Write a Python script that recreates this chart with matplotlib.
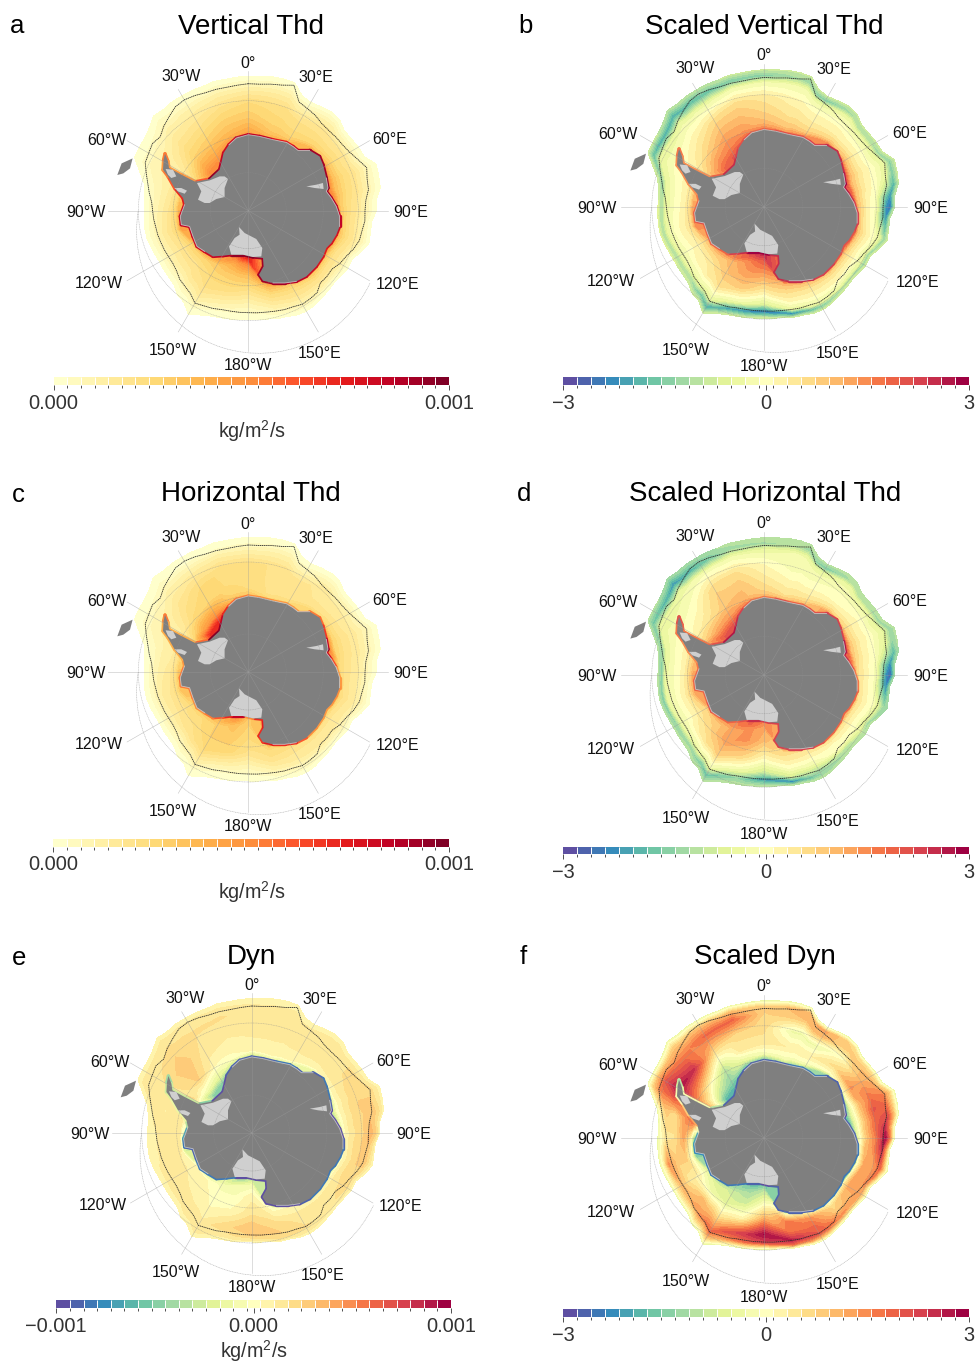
import numpy as np
import matplotlib
matplotlib.use("Agg")
import matplotlib.pyplot as plt
from matplotlib.colors import BoundaryNorm
from matplotlib.colorbar import ColorbarBase
from matplotlib.collections import LineCollection
from matplotlib.patches import Polygon, Arc, Circle

plt.rcParams['font.family'] = ['Liberation Sans', 'DejaVu Sans']
plt.rcParams['mathtext.default'] = 'regular'

W, H = 976, 1364

# ---- Map geometry (map units, pole at origin) ----
SECTOR_LON = [0, 15, 30, 45, 60, 75, 90, 105, 120, 135, 150, 165, 180, 195, 210,
              225, 240, 255, 270, 285, 300, 315, 330, 345]
INNER_R = [76, 73, 78, 86, 86, 82, 88, 91, 87, 87, 80, 74, 44, 47, 54, 60, 60, 68, 68, 67, 60, 50, 55, 70]
EDGE_LON = list(range(0, 360, 5))
OUTER_R = [134.7, 135, 136, 136.5, 136, 127, 125, 127, 129, 129, 125, 125.6, 127, 128, 136, 135,
           134, 128.5, 128, 124, 124, 125, 120, 114.6, 115, 113, 112, 113, 114, 115.5, 116, 115,
           112.7, 112, 110, 109.5, 109, 109.3, 110, 110.6, 112, 115, 120, 112, 110, 105, 103.5, 103,
           102.5, 103, 104, 105, 105, 104.5, 104, 104, 105, 108, 115.7, 125.5, 126, 126.6, 129, 134,
           132, 132.8, 132.6, 132.8, 132.4, 133.7, 133.4, 134]
FRONT_R = [127, 127, 128.5, 130, 133.5, 120, 118, 116.6, 114, 113.6, 114.4, 115, 117, 121, 126, 123,
           122, 118, 116.7, 117, 115.5, 115, 112, 108, 105.7, 102, 102.5, 102, 107, 107.6, 108, 106,
           105.3, 104, 103, 102.5, 102, 102, 102, 102.4, 104, 105, 106.7, 101, 98.6, 97, 93.6, 92,
           92, 92.6, 93, 93.7, 94, 95, 95.7, 97, 100.5, 104, 108.6, 113.7, 115, 117, 115, 119.5,
           123, 127, 128, 127, 125.5, 125.6, 125.3, 126]
RADIAL_S = [0.0, 0.04, 0.12, 0.30, 0.55, 0.78, 0.90, 1.0]

COAST_X = [-27, -24.7, -19.3, -12, 0, 11.3, 24.7, 38, 44.7, 49.7, 61.3, 71.3, 74.7, 78, 79.7, 78, 83, 88,
           91.3, 91.3, 88, 83, 78, 74.7, 68, 58, 48, 36.3, 24.7, 14.7, 10.7, 15.3, 14.7, 4.7, -5.3, -17,
           -25.3, -35.3, -43.7, -51.3, -55.3, -58.7, -67, -68, -63.7, -65.3, -73.7, -80.3, -85.3, -84.7,
           -83.3, -80.3, -79.3, -67, -53.7, -51.3, -38.7, -28.7]
COAST_Y = [47.7, 57.7, 66, 72.7, 76, 74.3, 71, 68.3, 64.3, 60.3, 60.3, 54.3, 46, 32.7, 22.7, 19.3, 12.7, 4.3,
           -5.7, -15.7, -24, -32.3, -37.3, -45.7, -55.7, -65.7, -70.7, -72.3, -72.3, -70, -64, -55.7, -47.3,
           -46.3, -44, -44, -45, -45.7, -40.7, -35.7, -25.7, -15.7, -14, -5.7, 6, 12.7, 22.7, 34.3, 41, 51,
           57, 49.3, 42.7, 36, 29.3, 29.3, 31.7, 41]
RONNE_X = [-51.3, -38.7, -28.7, -23.7, -20.3, -23.7, -23.7, -32, -38.7, -43.7, -50.3, -47]
RONNE_Y = [27.7, 30.3, 34.3, 34.3, 31.7, 22.7, 13.7, 11.7, 7.7, 7.7, 11, 19.3]
ROSS_X = [-9.3, -3.7, 8, 14, 13, 4.7, -5.3, -17, -19.3, -13.7, -8.7]
ROSS_Y = [-16.3, -22.3, -28.3, -37.3, -45.7, -46.3, -44, -44, -35.7, -27.3, -24]
AMERY_X = [58, 68, 74.7, 75.3, 66.3]
AMERY_Y = [24.3, 26, 27.7, 21.7, 22.7]
LARSEN_X = [-82.7, -75.3, -72, -77, -80.3]
LARSEN_Y = [41.7, 41, 34.3, 32.7, 36]
WEST_ISLE_X = [-73.7, -67, -61.3, -63.7, -70.3]
WEST_ISLE_Y = [22.7, 22.7, 20, 17, 19.3]
GEORGIA_X = [-131, -126.7, -115.7, -118.3, -125]
GEORGIA_Y = [35.7, 47.3, 52.3, 42.3, 37.3]

# ---- Field values: rows = RADIAL_S (coast to outer edge), columns = SECTOR_LON ----
# panels a, c, e in 1e-5 kg/m2/s; panels b, d, f in tenths of a standard unit
VERTICAL_THD = [
    [85, 85, 70, 90, 90, 95, 85, 80, 75, 80, 90, 90, 100, 95, 85, 80, 80, 85, 80, 70, 45, 95, 85, 80],
    [42, 38, 34, 38, 45, 50, 45, 38, 38, 38, 42, 45, 75, 50, 42, 35, 38, 42, 38, 30, 22, 50, 48, 42],
    [38, 32, 28, 28, 33, 35, 30, 30, 28, 30, 30, 35, 55, 40, 30, 26, 28, 28, 26, 22, 18, 42, 40, 36],
    [30, 26, 24, 22, 24, 25, 22, 22, 20, 22, 22, 25, 35, 30, 25, 20, 20, 20, 18, 15, 12, 28, 30, 30],
    [24, 22, 20, 18, 18, 18, 16, 16, 16, 16, 16, 16, 20, 22, 20, 16, 15, 14, 12, 10, 10, 18, 20, 22],
    [12, 12, 10, 10, 8, 8, 8, 8, 8, 8, 8, 8, 8, 10, 10, 8, 8, 6, 6, 6, 6, 10, 12, 12],
    [4, 4, 4, 4, 3, 3, 3, 3, 3, 3, 3, 3, 3, 3, 3, 3, 3, 3, 2, 2, 2, 4, 4, 4],
    [1, 1, 1, 1, 1, 1, 1, 1, 1, 1, 1, 1, 1, 1, 1, 1, 1, 1, 1, 1, 1, 1, 1, 1],
]
HORIZONTAL_THD = [
    [50, 50, 45, 50, 60, 95, 45, 50, 45, 50, 70, 75, 50, 85, 65, 50, 50, 55, 55, 40, 40, 100, 95, 60],
    [30, 25, 24, 26, 35, 50, 30, 30, 26, 28, 35, 35, 30, 45, 35, 28, 30, 32, 32, 24, 25, 70, 70, 35],
    [24, 20, 20, 20, 25, 28, 22, 22, 20, 20, 22, 25, 28, 33, 28, 24, 25, 25, 22, 18, 18, 45, 48, 28],
    [22, 20, 18, 17, 18, 20, 18, 18, 16, 16, 18, 22, 25, 30, 28, 22, 20, 18, 16, 12, 12, 25, 28, 24],
    [22, 20, 18, 16, 15, 15, 14, 14, 14, 14, 14, 16, 20, 26, 24, 18, 16, 14, 12, 10, 10, 18, 24, 24],
    [10, 10, 8, 8, 8, 8, 7, 7, 7, 7, 7, 8, 8, 10, 10, 8, 8, 6, 6, 5, 6, 10, 12, 12],
    [3, 3, 3, 3, 3, 3, 3, 3, 3, 3, 3, 3, 3, 3, 3, 3, 3, 2, 2, 2, 2, 3, 3, 3],
    [1, 1, 1, 1, 1, 1, 1, 1, 1, 1, 1, 1, 1, 1, 1, 1, 1, 1, 1, 1, 1, 1, 1, 1],
]
DYN = [
    [-90, -90, -80, -95, -80, -95, -95, -80, -80, -85, -95, -95, -100, -95, -80, -85, -85, -95, -70, -10, -30, -95, -95, -90],
    [-25, -20, -15, -15, -15, -25, -25, -15, -15, -15, -25, -30, -30, -35, -15, -15, -15, -25, -5, 10, 5, -50, -50, -25],
    [5, 5, 5, 5, 5, 0, 0, 5, 5, 5, 5, 0, -10, -10, -5, 5, 5, 10, 15, 18, 20, -15, -20, 0],
    [10, 10, 10, 12, 15, 15, 15, 15, 15, 12, 10, 8, 8, -3, 0, 8, 10, 12, 15, 12, 15, 25, 8, 8],
    [12, 12, 12, 14, 18, 25, 20, 25, 18, 15, 15, 22, 15, 5, 5, 10, 12, 12, 12, 10, 18, 30, 14, 12],
    [14, 15, 15, 15, 18, 25, 35, 25, 20, 15, 18, 25, 30, 22, 14, 15, 12, 10, 10, 12, 15, 20, 18, 18],
    [10, 10, 10, 10, 10, 15, 25, 12, 12, 10, 12, 20, 25, 15, 12, 10, 10, 10, 10, 10, 12, 14, 14, 12],
    [6, 6, 6, 6, 6, 6, 6, 6, 6, 6, 6, 6, 6, 6, 6, 6, 6, 6, 6, 6, 6, 6, 6, 6],
]
SCALED_VERTICAL = [
    [18, 20, 20, 24, 24, 28, 22, 22, 20, 22, 24, 24, 30, 28, 24, 18, 18, 20, 18, 14, 15, 25, 24, 20],
    [14, 14, 14, 15, 17, 20, 17, 17, 15, 15, 16, 18, 25, 20, 16, 12, 12, 14, 12, 10, 8, 18, 20, 16],
    [10, 9, 8, 8, 10, 10, 9, 9, 8, 8, 10, 10, 20, 15, 10, 8, 8, 7, 6, 5, 5, 15, 16, 13],
    [7, 5, 4, 3, 4, 4, 3, 4, 4, 4, 5, 6, 14, 13, 9, 4, 3, 3, 2, 2, 2, 8, 12, 10],
    [4, 2, 1, 0, 0, 0, -2, 0, 0, 1, 1, 2, 5, 8, 5, 2, 0, 0, -1, -1, -1, 2, 6, 6],
    [-3, -3, -4, -4, -5, -5, -22, -6, -5, -4, -4, -5, -6, -4, -6, -4, -4, -4, -5, -5, -5, -4, -4, -3],
    [-15, -12, -16, -12, -12, -16, -26, -14, -14, -12, -16, -24, -25, -22, -20, -12, -12, -12, -12, -14, -20, -20, -18, -16],
    [-9, -9, -9, -9, -9, -9, -10, -9, -8, -8, -9, -9, -8, -8, -8, -8, -7, -7, -7, -8, -9, -10, -10, -9],
]
SCALED_HORIZONTAL = [
    [16, 20, 18, 22, 22, 28, 16, 18, 18, 18, 24, 22, 22, 24, 20, 18, 20, 18, 18, 14, 18, 28, 26, 20],
    [10, 10, 10, 12, 14, 20, 10, 10, 10, 10, 12, 12, 15, 18, 15, 12, 12, 12, 12, 9, 12, 20, 20, 14],
    [7, 5, 6, 6, 7, 9, 5, 5, 5, 5, 5, 6, 12, 14, 12, 8, 7, 8, 8, 6, 6, 14, 14, 10],
    [4, 2, 2, 1, 3, 3, 2, 2, 2, 1, 2, 4, 10, 14, 13, 7, 4, 3, 2, 2, 1, 5, 8, 9],
    [1, -2, -1, -1, 0, -1, -2, -1, -1, 1, -3, -1, 2, 7, 8, 4, 0, -1, -1, -1, -2, 0, 7, 5],
    [-4, -3, -4, -4, -5, -6, -22, -8, -6, -10, -12, -8, -8, -4, -4, -4, -4, -4, -4, -5, -5, -4, -2, -3],
    [-12, -11, -16, -11, -12, -14, -28, -14, -12, -12, -14, -24, -22, -14, -18, -13, -14, -16, -15, -14, -18, -22, -18, -12],
    [-10, -10, -11, -10, -10, -11, -13, -12, -10, -10, -10, -10, -10, -10, -10, -10, -11, -11, -11, -11, -11, -12, -12, -11],
]
SCALED_DYN = [
    [-26, -26, -24, -26, -26, -28, -26, -24, -24, -25, -26, -26, -28, -26, -24, -24, -24, -24, -22, 14, -5, -28, -26, -26],
    [-14, -12, -12, -12, -14, -16, -16, -14, -14, -14, -14, -14, -16, -16, -12, -10, -10, -14, -12, 20, 10, -18, -18, -16],
    [-2, -2, -2, 0, 2, -6, -4, 0, 4, 0, 2, 4, -10, -12, -8, -6, -4, -2, 2, 20, 10, -10, -14, -6],
    [4, 3, 3, 6, 14, 8, 8, 12, 12, 6, 14, 16, -2, -8, -6, -4, 2, 8, 12, 14, 18, 2, -10, 4],
    [6, -4, -4, 0, 12, 20, 16, 12, 12, 8, 18, 16, 12, 2, 6, 10, 4, 8, 5, 6, 28, 24, 6, 6],
    [7, 9, 10, 8, 10, 18, 28, 18, 12, 14, 20, 26, 28, 22, 18, 12, 10, 14, 4, 8, 20, 14, 18, 18],
    [8, 10, 12, 6, 6, 8, 14, 6, 6, 6, 10, 18, 22, 16, 8, 4, 4, 2, 0, 4, 10, 8, 10, 10],
    [-4, -4, -4, -4, -4, -4, -5, -4, -4, -4, -4, -4, -4, -4, -4, -4, -4, -4, -4, -4, -4, -4, -4, -4],
]

# ---- Labels ----
GRID_LON = [0, 30, 60, 90, 120, 150, 180, 210, 240, 270, 300, 330]
GRID_LABELS = ['0°', '30°E', '60°E', '90°E', '120°E', '150°E', '180°W', '150°W', '120°W', '90°W', '60°W', '30°W']
LABEL_X = [0, 68, 141.7, 162, 149, 71, 0, -75.6, -149, -162, -141.6, -67]
LABEL_Y = [149, 135, 73, 0, -72, -141, -153, -138, -71, 0, 72, 136]
GRID_CIRCLES = [38, 75, 110]
GRID_END = 140

TITLES = ['Vertical Thd', 'Scaled Vertical Thd', 'Horizontal Thd', 'Scaled Horizontal Thd', 'Dyn', 'Scaled Dyn']
LETTERS = ['a', 'b', 'c', 'd', 'e', 'f']
FIELDS = [VERTICAL_THD, SCALED_VERTICAL, HORIZONTAL_THD, SCALED_HORIZONTAL, DYN, SCALED_DYN]
CMAPS = ['YlOrRd', 'Spectral_r', 'YlOrRd', 'Spectral_r', 'Spectral_r', 'Spectral_r']
VMIN = [0, -30, 0, -30, -100, -30]
VMAX = [100, 30, 100, 30, 100, 30]
TICK_LABELS = [['0.000', '0.001'], ['−3', '0', '3'], ['0.000', '0.001'], ['−3', '0', '3'],
               ['−0.001', '0.000', '0.001'], ['−3', '0', '3']]

POLE = [(248.3, 210.7), (764, 207), (248.3, 672), (764, 675), (251.7, 1133), (764, 1138)]
MAP_SCALE = [1.0, 1.02, 1.0, 1.02, 1.0, 1.02]
LABEL_SCALE = [1.0, 1.03, 1.0, 1.03, 1.0, 1.03]
TITLE_POS = [(250.7, 26.5), (764.5, 26.5), (251, 494), (765, 494), (251, 957.5), (765, 957.5)]
LETTER_POS = [(17, 26), (526, 26), (18, 495), (524, 494), (19, 958), (523, 957)]
BAR_BOX = [(53.7, 449, 377, 385), (563.3, 969.3, 377, 385), (53.3, 449, 838.7, 846.5),
           (563.3, 969.3, 846.7, 854), (56.3, 451, 1300, 1307.7), (563.3, 969.3, 1309, 1316.7)]
UNIT_POS = [(251.7, 431), None, (251.7, 892.5), None, (254, 1351.5), None]

LAND = '#7f7f7f'
SHELF = '#cfcfcf'
HALF = 175
NSEG = 29

fig = plt.figure(figsize=(W / 100, H / 100), dpi=100)
fig.patch.set_facecolor('white')


def polar_xy(lon_deg, r):
    t = np.deg2rad(lon_deg)
    return r * np.sin(t), r * np.cos(t)


# rendering mesh: the read values are drawn on rings that follow the edge outline
lon_sector = np.array(SECTOR_LON + [360.0])
lon_edge = np.array(EDGE_LON + [360.0])
inner = np.interp(lon_edge, lon_sector, INNER_R + INNER_R[:1])
outer = np.array(OUTER_R + OUTER_R[:1], float)
s = np.array(RADIAL_S)
radii = np.vstack([np.full(lon_edge.size, 8.0)] + [inner + f * (outer - inner) for f in s])
X, Y = polar_xy(np.tile(lon_edge, (radii.shape[0], 1)), radii)

coast_xy = np.c_[COAST_X + COAST_X[:1], COAST_Y + COAST_Y[:1]]
coast_segs = np.stack([coast_xy[:-1], coast_xy[1:]], axis=1)
coast_mid = coast_segs.mean(axis=1)
coast_lon = np.rad2deg(np.arctan2(coast_mid[:, 0], coast_mid[:, 1])) % 360

for i in range(6):
    cx, cy = POLE[i]
    sc = MAP_SCALE[i]
    ax = fig.add_axes([(cx - HALF) / W, 1 - (cy + HALF) / H, 2 * HALF / W, 2 * HALF / H])
    ax.set_xlim(-HALF / sc, HALF / sc)
    ax.set_ylim(-HALF / sc, HALF / sc)
    ax.axis('off')
    ax.patch.set_alpha(0)

    levels = np.linspace(VMIN[i], VMAX[i], NSEG + 1)
    cmap = plt.get_cmap(CMAPS[i], NSEG)
    norm = BoundaryNorm(levels, NSEG)

    field = np.array(FIELDS[i], float)
    field = np.hstack([field, field[:, :1]])
    rows = [np.interp(lon_edge, lon_sector, r) for r in field]
    # the coast row itself is stroked along the shoreline; the open field starts from the next row
    vals = np.vstack([rows[1], rows[1]] + rows[1:])
    ax.contourf(X, Y, vals, levels=levels, cmap=cmap, norm=norm, extend='both', zorder=1, antialiased=False)

    band = LineCollection(coast_segs, array=np.interp(coast_lon, lon_sector, field[0]), cmap=cmap, norm=norm,
                          linewidths=2.4, zorder=2, capstyle='round')
    ax.add_collection(band)

    # land and ice shelves
    ax.add_patch(Polygon(np.c_[COAST_X, COAST_Y], closed=True, fc=LAND, ec='none', zorder=3))
    ax.add_patch(Polygon(np.c_[GEORGIA_X, GEORGIA_Y], closed=True, fc=LAND, ec='none', zorder=3))
    for px, py in [(RONNE_X, RONNE_Y), (ROSS_X, ROSS_Y), (AMERY_X, AMERY_Y), (LARSEN_X, LARSEN_Y), (WEST_ISLE_X, WEST_ISLE_Y)]:
        ax.add_patch(Polygon(np.c_[px, py], closed=True, fc=SHELF, ec='none', zorder=4))
    for a, b in [(2, 11), (13, 20), (26, 29), (38, 45)]:
        ax.plot(COAST_X[a:b], COAST_Y[a:b], color=SHELF, lw=0.6, zorder=4, alpha=0.85)

    # graticule
    for lon in GRID_LON:
        gx, gy = polar_xy(np.full(2, float(lon)), np.array([0.0, GRID_END]))
        ax.plot(gx, gy, color='#9a9a9a', lw=0.4, alpha=0.6, zorder=5)
    for rad in GRID_CIRCLES:
        ax.add_patch(Circle((0, 0), rad, fc='none', ec='#8c8c8c', lw=0.4, ls=(0, (2, 1)), alpha=0.6, zorder=5))
    ax.add_patch(Arc((10.9, -20), 245.2, 245.2, theta1=170.6, theta2=334.6, ec='#b0b0b0', lw=0.4,
                     ls=(0, (2, 1)), zorder=5))

    # dotted front line
    fx, fy = polar_xy(lon_edge, np.array(FRONT_R + FRONT_R[:1], float))
    ax.plot(fx, fy, color='#2b2b2b', lw=0.6, ls=(0, (1.6, 0.7)), zorder=6)

    # longitude labels
    ls = LABEL_SCALE[i] / sc
    for name, lx, ly in zip(GRID_LABELS, LABEL_X, LABEL_Y):
        ax.text(lx * ls, (ly - 1.5) * ls, name, ha='center', va='center', fontsize=11.5, color='#111111', zorder=7)

    # titles
    tx, ty = TITLE_POS[i]
    fig.text(tx / W, 1 - ty / H, TITLES[i], ha='center', va='center', fontsize=20, color='black')
    lx, ly = LETTER_POS[i]
    fig.text(lx / W, 1 - ly / H, LETTERS[i], ha='center', va='center', fontsize=18.5, color='black')

    # colour bar
    x0, x1, y0, y1 = BAR_BOX[i]
    cax = fig.add_axes([x0 / W, 1 - y1 / H, (x1 - x0) / W, (y1 - y0) / H])
    cb = ColorbarBase(cax, cmap=cmap, norm=norm, orientation='horizontal', spacing='proportional', drawedges=True)
    cb.outline.set_visible(False)
    cb.dividers.set_color('white')
    cb.dividers.set_linewidth(0.7)
    labels = TICK_LABELS[i]
    if len(labels) == 2:
        majors = [VMIN[i], VMAX[i]]
    else:
        majors = [VMIN[i], 0.5 * (VMIN[i] + VMAX[i]), VMAX[i]]
    cb.set_ticks(majors)
    cb.set_ticklabels(labels)
    cax.xaxis.set_ticks(levels, minor=True)
    cax.tick_params(axis='x', which='major', length=3.6, width=0.6, color='#333333', labelsize=14.4,
                    labelcolor='#333333', pad=2.8)
    cax.tick_params(axis='x', which='minor', length=2.0, width=0.6, color='#333333')
    if UNIT_POS[i] is not None:
        ux, uy = UNIT_POS[i]
        fig.text(ux / W, 1 - uy / H, 'kg/m$^{2}$/s', ha='center', va='center', fontsize=14.2, color='#333333')

fig.savefig('out.png', dpi=100, facecolor='white')
